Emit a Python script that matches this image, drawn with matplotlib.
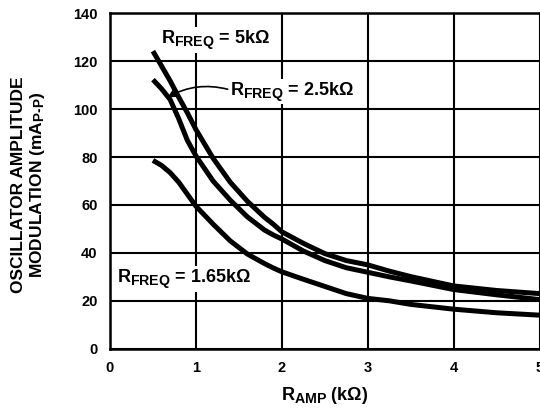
import matplotlib
matplotlib.use("Agg")
import matplotlib.pyplot as plt
import matplotlib._mathtext as mathtext_mod
import numpy as np

# subscripts in the reference are only a little smaller than the main text
mathtext_mod.SHRINK_FACTOR = 0.78

# -----------------------------------
# Data
# -----------------------------------
r_amp = [0.5, 0.6, 0.7, 0.8, 0.9, 1.0, 1.2, 1.4, 1.6, 1.8, 1.9, 2.0,
         2.25, 2.5, 2.75, 3.0, 3.25, 3.5, 4.0, 4.5, 5.0]

mod_5k = [124.2, 118.0, 111.8, 105.0, 98.5, 91.5, 79.5, 69.5, 61.5, 54.8, 52.0, 48.8,
          44.0, 39.7, 36.8, 35.0, 32.4, 30.1, 26.2, 24.3, 23.0]
mod_2k5 = [112.3, 108.5, 104.0, 96.0, 87.0, 80.5, 70.0, 62.0, 55.0, 49.5, 47.5, 45.8,
           40.8, 36.8, 33.8, 31.9, 30.0, 28.3, 24.7, 22.5, 20.5]
mod_1k65 = [78.6, 76.5, 73.5, 69.5, 64.5, 59.5, 52.0, 45.0, 39.5, 35.5, 33.7, 32.1,
            29.0, 26.0, 23.0, 21.0, 20.0, 18.5, 16.5, 15.0, 14.0]

x_ticks = [0, 1, 2, 3, 4, 5]
y_ticks = [0, 20, 40, 60, 80, 100, 120, 140]

# -----------------------------------
# Plot setup
# -----------------------------------
plt.rcParams.update({
    "font.family": ["Liberation Sans", "DejaVu Sans"],
    "font.weight": "bold",
    "font.size": 10,
    "mathtext.fontset": "custom",
    "mathtext.rm": "Liberation Sans:bold",
    "mathtext.bf": "Liberation Sans:bold",
    "mathtext.it": "Liberation Sans:bold",
})

fig = plt.figure(figsize=(5.4, 4.15), dpi=100)
ax = fig.add_axes([110 / 540, 66.3 / 415, 429.5 / 540, 335.4 / 415])

for y in [mod_5k, mod_2k5, mod_1k65]:
    ax.plot(r_amp, y, color="black", lw=3.6, solid_capstyle="butt", zorder=3)

ax.set_xlim(0, 5)
ax.set_ylim(0, 140)
ax.set_xticks(x_ticks)
ax.set_yticks(y_ticks)
ax.tick_params(length=0, labelsize=10.5)
ax.tick_params(axis="x", pad=9)
ax.tick_params(axis="y", pad=9)
ax.grid(True, color="black", lw=1.5, zorder=1)
ax.set_axisbelow(True)
for sp in ax.spines.values():
    sp.set_linewidth(1.8)

# -----------------------------------
# Labels and annotations
# -----------------------------------
box = dict(facecolor="white", edgecolor="none", pad=1)
ax.text(0.59, 129, r"$\mathbf{R_{FREQ}}$ = 5k$\Omega$", fontsize=13,
        ha="left", va="center", bbox=box, zorder=4)
ax.text(1.40, 107.4, r"$\mathbf{R_{FREQ}}$ = 2.5k$\Omega$", fontsize=13,
        ha="left", va="center", bbox=box, zorder=4)
ax.text(0.08, 29.2, r"$\mathbf{R_{FREQ}}$ = 1.65k$\Omega$", fontsize=13,
        ha="left", va="center", bbox=box, zorder=4)
ax.annotate("", xy=(0.67, 104.9), xytext=(1.37, 108.3),
            arrowprops=dict(arrowstyle="-|>", color="black", lw=1.2,
                            mutation_scale=16, shrinkA=0, shrinkB=0,
                            connectionstyle="arc3,rad=0.2"), zorder=4)

fig.text(325 / 540, 20 / 415, r"R$_{AMP}$ (k$\Omega$)", fontsize=13,
         ha="center", va="center")
fig.text(29 / 540, 1 - 185 / 415,
         "OSCILLATOR AMPLITUDE\nMODULATION (mA$_{P\u2011P}$)",
         fontsize=12.5, rotation=90, ha="center", va="center",
         multialignment="center", linespacing=1.1)

plt.savefig("out.png", dpi=100)
